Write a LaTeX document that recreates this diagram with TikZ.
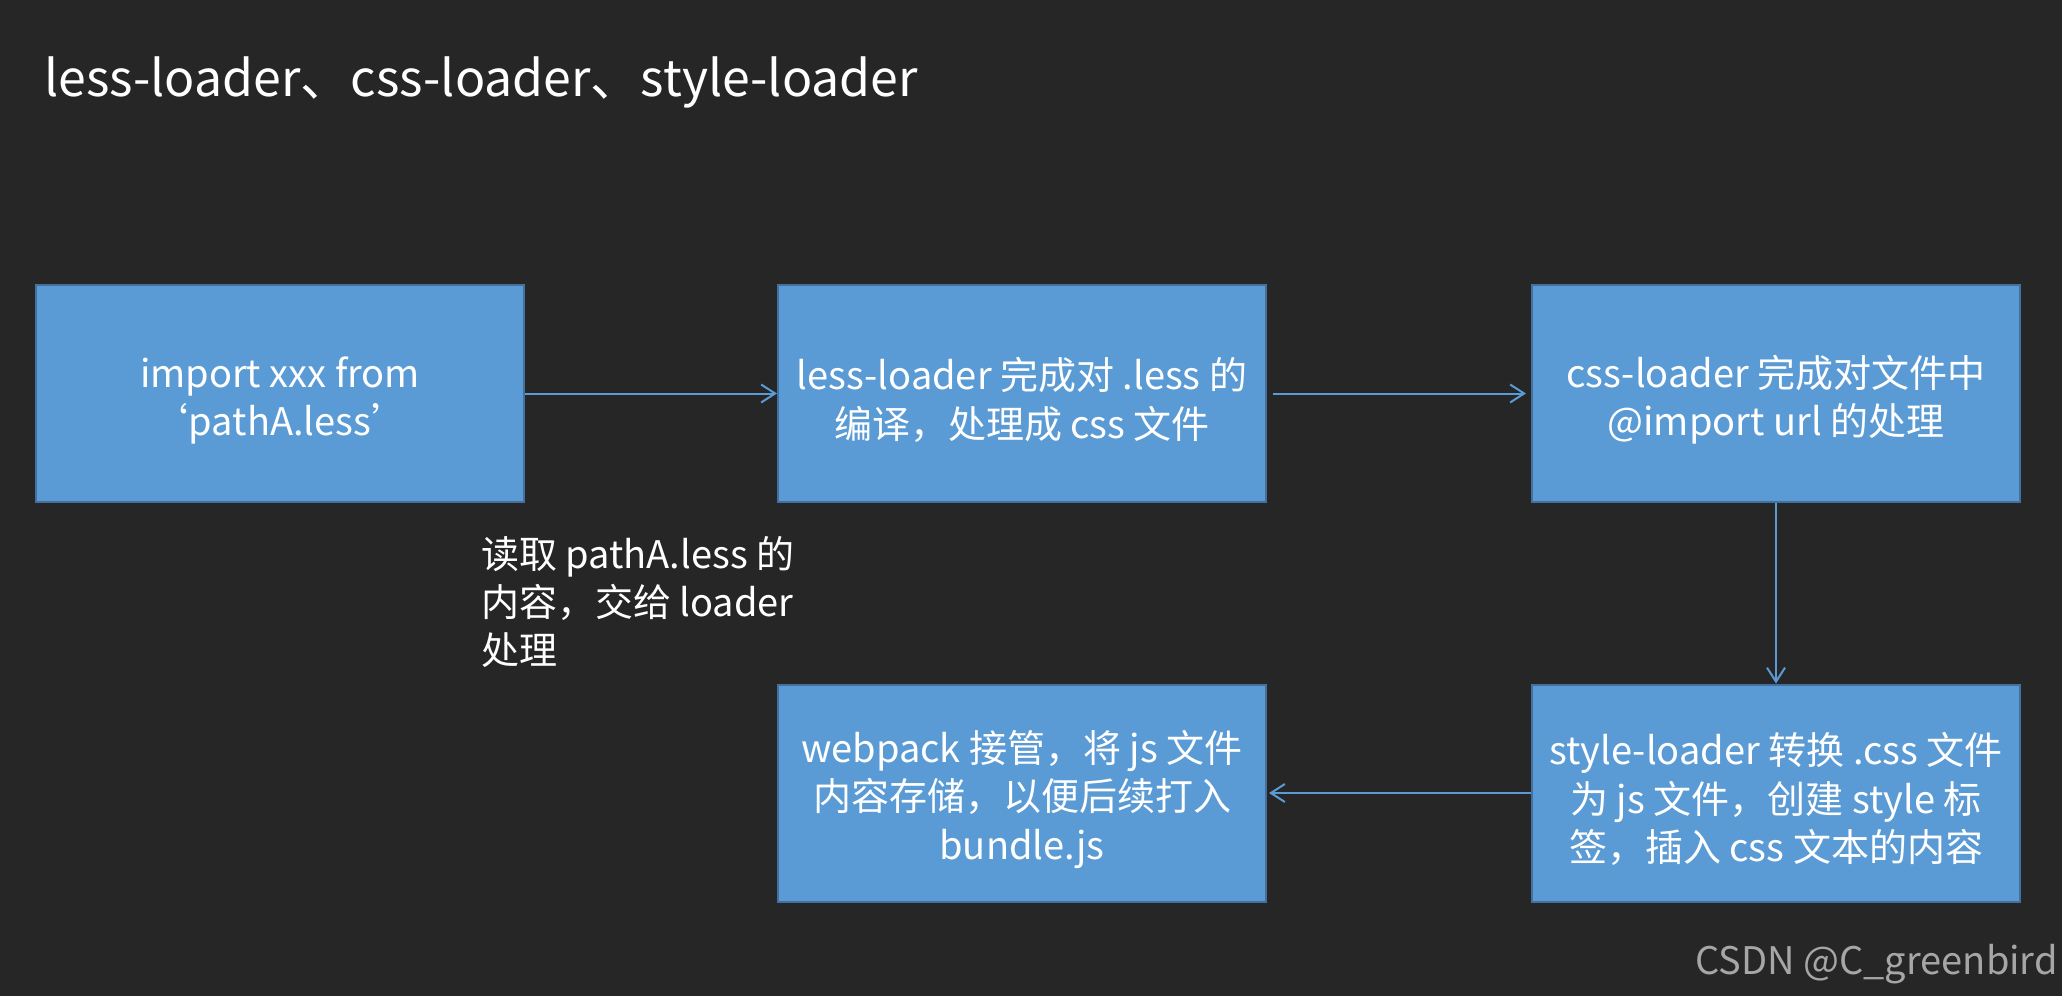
\documentclass[tikz,border=0pt]{standalone}
\usepackage{fontspec}
\setmainfont{Noto Sans CJK SC}
\newfontfamily\cjk{Noto Sans CJK SC}
\usetikzlibrary{arrows.meta}
\definecolor{bgc}{HTML}{262626}
\definecolor{boxblue}{HTML}{5B9BD5}
\definecolor{boxedge}{HTML}{41719C}
\definecolor{wm}{HTML}{A6A6A6}
\newcommand\mystrut{\rule{0pt}{45pt}}
\tikzset{
  stepbox/.style={rectangle, fill=boxblue, draw=boxedge, line width=2pt,
    minimum width=488pt, minimum height=217pt, inner sep=0pt, text=white,
    align=center, font=\cjk\fontsize{38}{48.5}\selectfont},
  conn/.style={draw=boxblue, line width=2pt, -{Straight Barb[length=14pt,width=18pt,line width=2pt]}}
}
\begin{document}
\begin{tikzpicture}[x=1pt,y=-1pt]
\fill[bgc] (0,0) rectangle (2062,996);
\useasboundingbox (0,0) rectangle (2062,996);
\node[anchor=base west, text=white, inner sep=0pt, font=\cjk\fontsize{50}{60}\selectfont] (title) at (44,96) {less-loader、css-loader、style-loader};
\node[stepbox] (b1) at (280,393.5) {\mystrut import xxx from\\‘pathA.less’};
\node[stepbox] (b2) at (1022,393.5) {\mystrut less-loader 完成对 .less 的\\编译，处理成 css 文件};
\node[stepbox] (b3) at (1776,393.5) {\mystrut css-loader 完成对文件中\\@import url 的处理};
\node[stepbox] (b4) at (1022,793) {\mystrut webpack 接管，将 js 文件\\内容存储，以便后续打入\\bundle.js};
\node[stepbox] (b5) at (1776,793) {\mystrut style-loader 转换 .css 文件\\为 js 文件，创建 style 标\\签，插入 css 文本的内容};
\node[anchor=north west, text=white, inner sep=0pt, align=left, font=\cjk\fontsize{38}{48}\selectfont] (lbl) at (481,536) {读取 pathA.less 的\\内容，交给 loader\\处理};
\node[anchor=base east, text=wm, inner sep=0pt, font=\cjk\fontsize{38}{40}\selectfont] (wmk) at (2058,974) {CSDN @C\_greenbird};
\draw[conn] (b1.east) -- (b2.west);
\draw[conn] ([xshift=6pt]b2.east) -- ([xshift=-5pt]b3.west);
\draw[conn] (b3.south) -- (b5.north);
\draw[conn] (b5.west) -- ([xshift=2pt]b4.east);
\end{tikzpicture}
\end{document}
